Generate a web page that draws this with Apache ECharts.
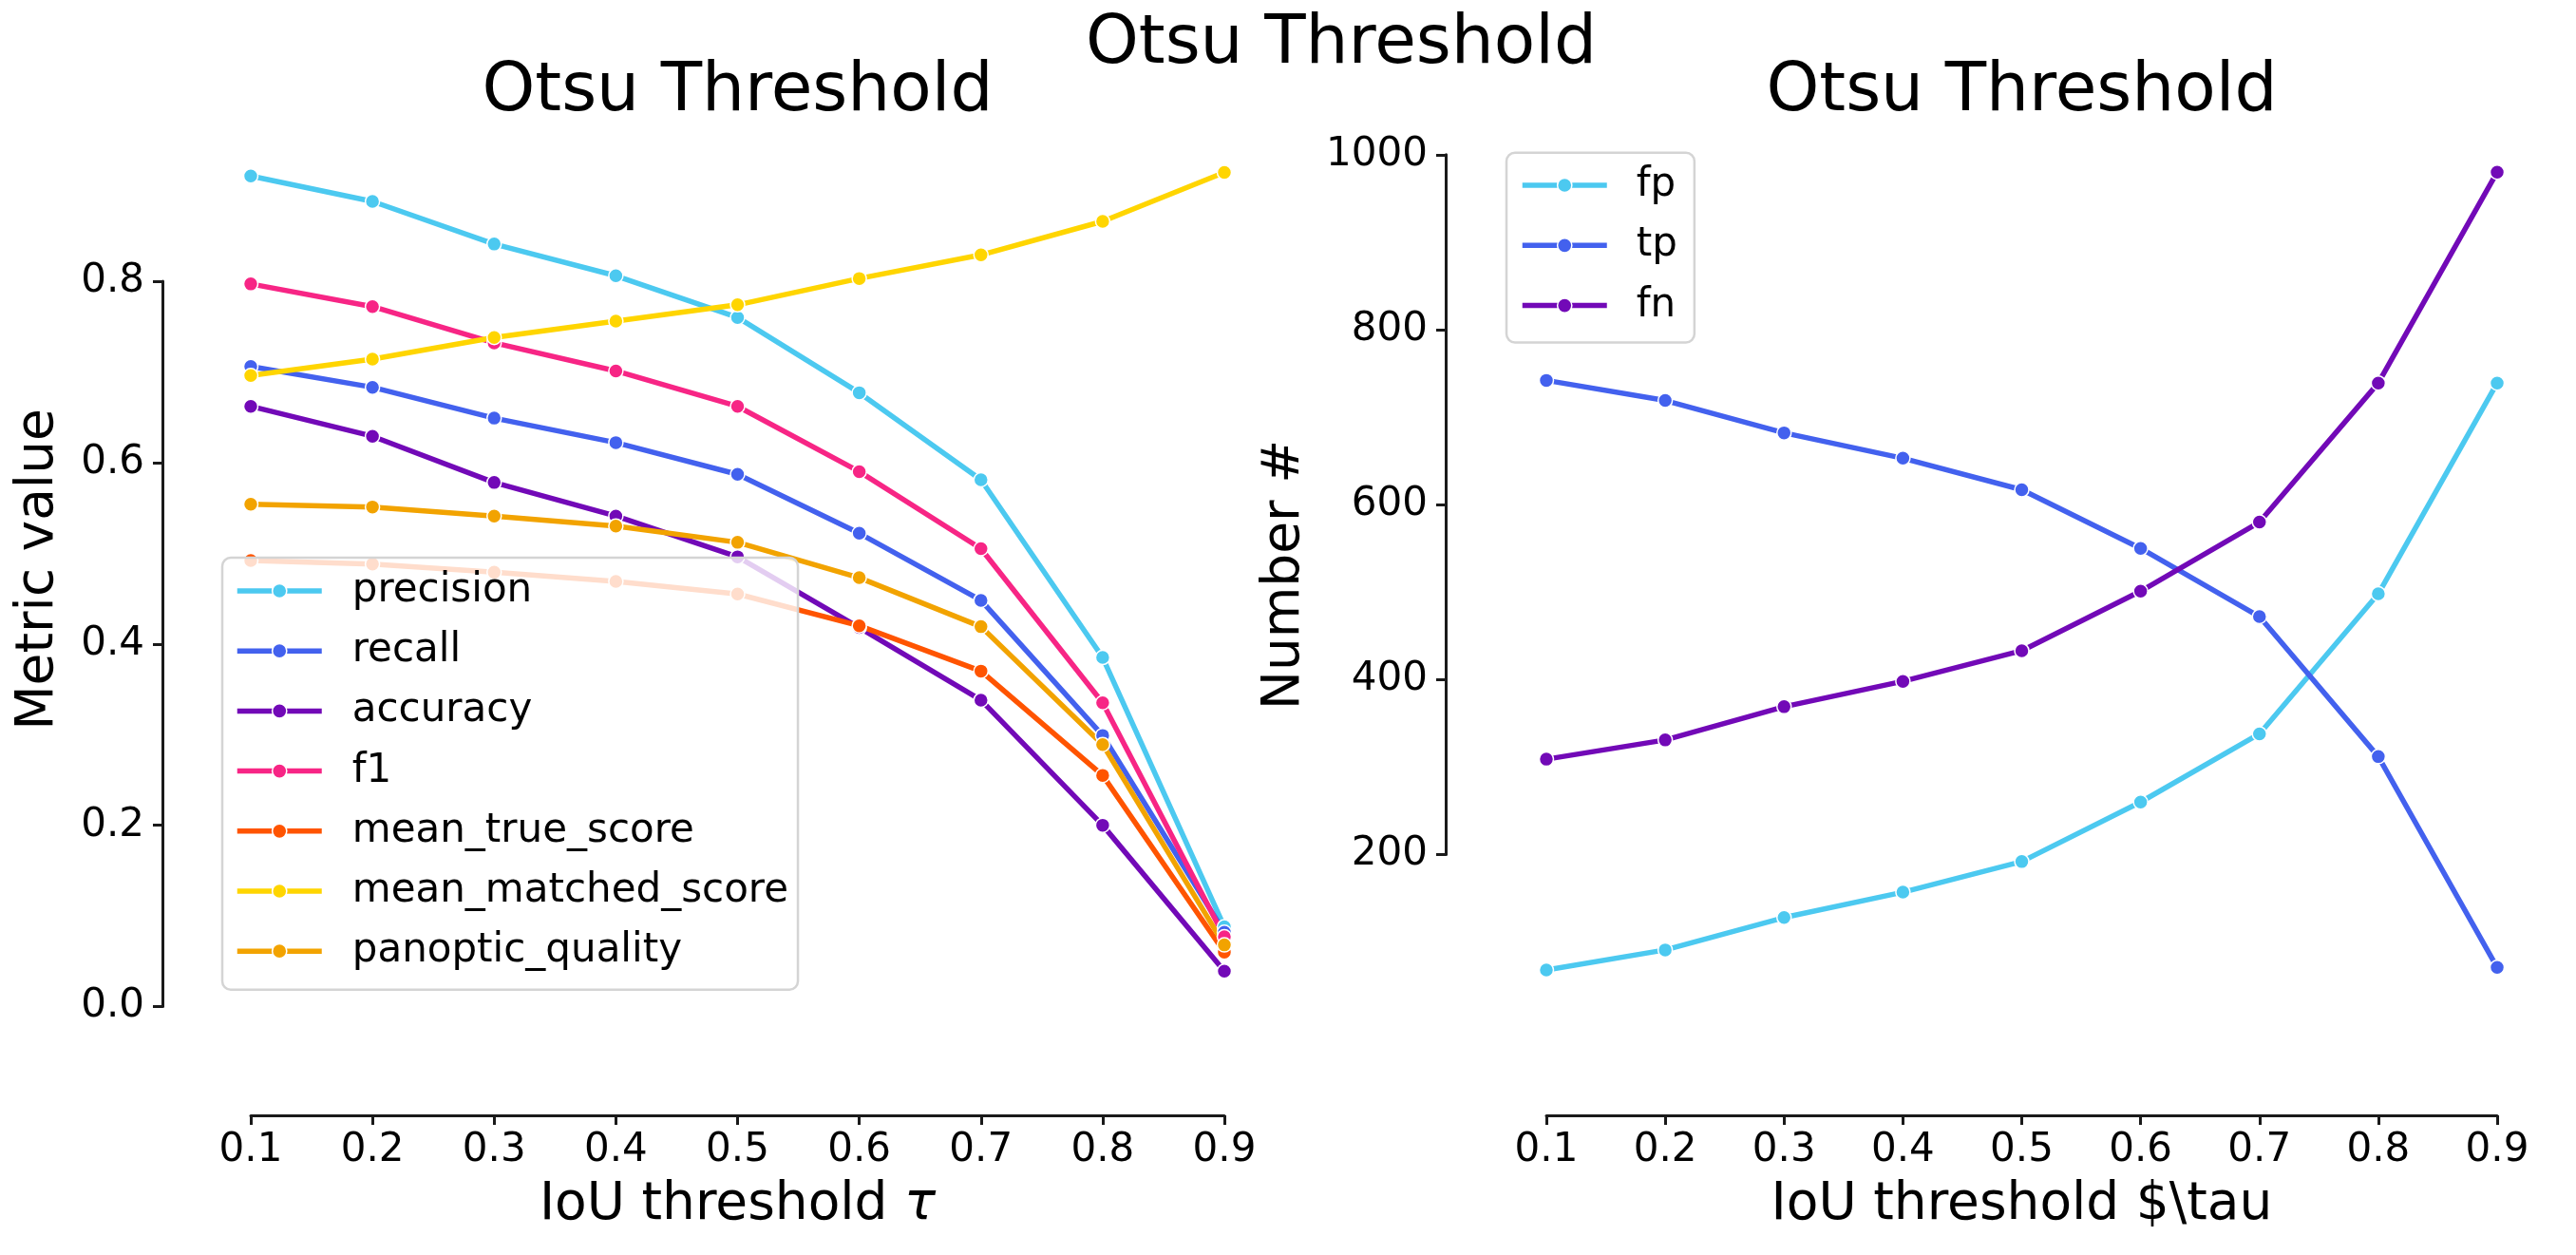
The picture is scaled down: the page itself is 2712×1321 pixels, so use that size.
<!DOCTYPE html>
<html>
<head>
<meta charset="utf-8">
<script src="https://cdn.jsdelivr.net/npm/echarts@6/dist/echarts.min.js"></script>
<style>
html,body{margin:0;padding:0;background:#fff;}
#chart{width:2712px;height:1321px;}
</style>
</head>
<body>
<div id="chart"></div>
<script>
// ---- data ----
const tau = ['0.1','0.2','0.3','0.4','0.5','0.6','0.7','0.8','0.9'];
const yTicksLeft = [0.0, 0.2, 0.4, 0.6, 0.8];
const yTicksRight = [200, 400, 600, 800, 1000];

const precision        = [0.916, 0.888, 0.841, 0.806, 0.760, 0.677, 0.581, 0.385, 0.088];
const recall           = [0.706, 0.683, 0.649, 0.622, 0.587, 0.522, 0.448, 0.299, 0.082];
const accuracy         = [0.662, 0.629, 0.578, 0.541, 0.496, 0.418, 0.338, 0.200, 0.039];
const f1               = [0.797, 0.772, 0.732, 0.701, 0.662, 0.590, 0.505, 0.335, 0.077];
const meanTrueScore    = [0.492, 0.488, 0.479, 0.469, 0.455, 0.420, 0.370, 0.255, 0.060];
const meanMatchedScore = [0.696, 0.714, 0.738, 0.756, 0.774, 0.803, 0.829, 0.866, 0.920];
const panopticQuality  = [0.554, 0.551, 0.541, 0.530, 0.512, 0.473, 0.419, 0.289, 0.068];

const fp = [68, 91, 128, 157, 192, 260, 338, 498, 739];
const tp = [742, 719, 682, 653, 617, 550, 472, 312, 71];
const fn = [309, 331, 369, 398, 433, 501, 580, 739, 980];

const leftSeries = [
  ['precision', precision, '#4cc9f0'],
  ['recall', recall, '#4361ee'],
  ['accuracy', accuracy, '#7209b7'],
  ['f1', f1, '#f72585'],
  ['mean_true_score', meanTrueScore, '#ff5400'],
  ['mean_matched_score', meanMatchedScore, '#ffd500'],
  ['panoptic_quality', panopticQuality, '#f2a300']
];
const rightSeries = [
  ['fp', fp, '#4cc9f0'],
  ['tp', tp, '#4361ee'],
  ['fn', fn, '#7209b7']
];

// ---- styles ----
const FONT = 'DejaVu Sans';
const TXT = '#000';
const SPINE = '#1a1a1a';

function mkSeries(item, idx) {
  return {
    type: 'line',
    name: item[0],
    data: item[1],
    xAxisIndex: idx,
    yAxisIndex: idx,
    clip: false,
    symbol: 'circle',
    symbolSize: 15,
    showSymbol: true,
    showAllSymbol: true,
    lineStyle: { width: 5.5, color: item[2] },
    itemStyle: { color: item[2], borderColor: '#ffffff', borderWidth: 1.5 },
    emphasis: { disabled: true },
    animation: false
  };
}

function xAxisCfg(gridIndex, offset, name) {
  return {
    type: 'category',
    gridIndex: gridIndex,
    data: tau,
    boundaryGap: false,
    position: 'bottom',
    offset: offset,
    name: name,
    nameLocation: 'middle',
    nameGap: 67,
    nameTextStyle: {
      fontFamily: FONT, fontSize: 55, color: TXT,
      rich: {
        n: { fontFamily: FONT, fontSize: 55, color: TXT },
        t: { fontFamily: FONT, fontSize: 55, color: TXT, fontStyle: 'italic' }
      }
    },
    axisLine: { show: true, onZero: false, lineStyle: { color: SPINE, width: 3 } },
    axisTick: { show: true, length: 10, lineStyle: { color: SPINE, width: 3 }, interval: 0 },
    axisLabel: { fontFamily: FONT, fontSize: 42, color: TXT, margin: 16, interval: 0 },
    splitLine: { show: false }
  };
}

function yAxisCfg(gridIndex, ticks, offset, fmt) {
  return {
    type: 'value',
    gridIndex: gridIndex,
    min: ticks[0],
    max: ticks[ticks.length - 1],
    interval: ticks[1] - ticks[0],
    offset: offset,
    axisLine: { show: true, onZero: false, lineStyle: { color: SPINE, width: 3 } },
    axisTick: { show: true, length: 10, lineStyle: { color: SPINE, width: 3 } },
    axisLabel: { fontFamily: FONT, fontSize: 42, color: TXT, margin: 19, formatter: fmt },
    splitLine: { show: false }
  };
}

function legendCfg(names, left, top, padding, gap, textPad) {
  return {
    data: names,
    orient: 'vertical',
    left: left,
    top: top,
    itemWidth: 89,
    itemHeight: 19,
    itemGap: gap,
    padding: padding,
    backgroundColor: 'rgba(255,255,255,0.8)',
    borderColor: '#d4d4d4',
    borderWidth: 2.5,
    borderRadius: 9,
    selectedMode: false,
    lineStyle: { width: 5.5 },
    itemStyle: { borderColor: '#ffffff', borderWidth: 1.5 },
    textStyle: { fontFamily: FONT, fontSize: 42, color: TXT, padding: [0, 0, 0, textPad] }
  };
}

function txt(text, x, y, size, rot) {
  return {
    type: 'text',
    x: x, y: y,
    rotation: rot || 0,
    silent: true,
    style: {
      text: text,
      font: size + 'px "' + FONT + '"',
      fill: TXT,
      textAlign: 'center', textVerticalAlign: 'middle',
      align: 'center', verticalAlign: 'middle'
    }
  };
}

const chart = echarts.init(document.getElementById('chart'), null, { renderer: 'canvas' });
chart.setOption({
  animation: false,
  backgroundColor: '#ffffff',
  grid: [
    { left: 264, right: 1423, top: 296, bottom: 261.5, outerBoundsMode: 'none', containLabel: false },
    { left: 1628, right: 83, top: 162.8, bottom: 421.5, outerBoundsMode: 'none', containLabel: false }
  ],
  xAxis: [
    xAxisCfg(0, 114.5, '{n|IoU threshold }{t|\u03C4}'),
    xAxisCfg(1, 274.5, 'IoU threshold $\\tau')
  ],
  yAxis: [
    yAxisCfg(0, yTicksLeft, 93, function (v) { return v.toFixed(1); }),
    yAxisCfg(1, yTicksRight, 106, function (v) { return String(v); })
  ],
  legend: [
    legendCfg(leftSeries.map(function (s) { return s[0]; }), 234, 587, [14, 10, 19.5, 13], 21.2, 27),
    legendCfg(rightSeries.map(function (s) { return s[0]; }), 1586, 160.7, [13.3, 18, 18, 14], 21.3, 26)
  ],
  graphic: [
    txt('Otsu Threshold', 1412, 47.5, 71),
    txt('Otsu Threshold', 776.5, 97.7, 71),
    txt('Otsu Threshold', 2128.5, 97.7, 71),
    txt('Metric value', 41, 599.5, 55, Math.PI / 2),
    txt('Number #', 1353, 605, 55, Math.PI / 2)
  ],
  series: leftSeries.map(function (s) { return mkSeries(s, 0); })
    .concat(rightSeries.map(function (s) { return mkSeries(s, 1); }))
});
</script>
</body>
</html>
